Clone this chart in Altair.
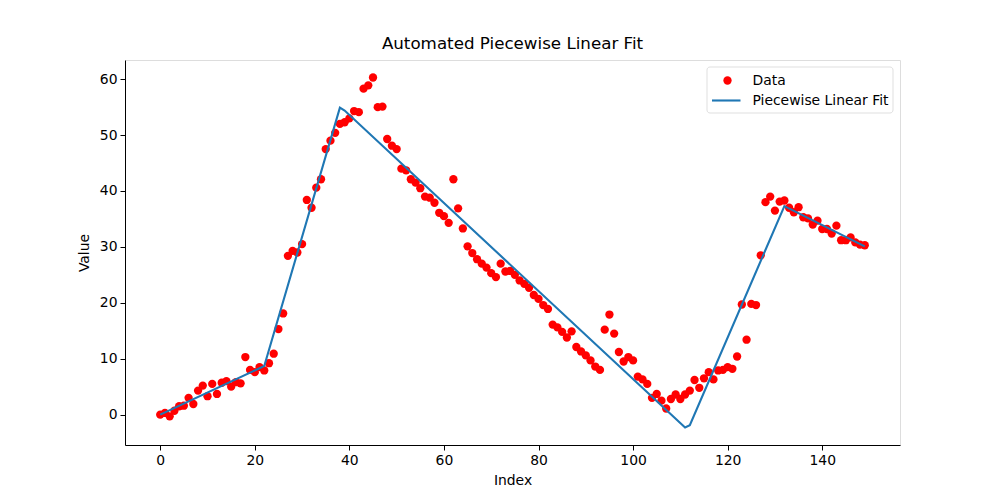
import altair as alt
import pandas as pd

values = [
    0.0, 0.3, -0.3, 0.7, 1.5, 1.6, 3.0, 1.9, 4.3, 5.2,
    3.3, 5.5, 3.7, 5.7, 6.0, 5.0, 5.8, 5.6, 10.3, 8.0,
    7.6, 8.5, 7.9, 9.2, 10.9, 15.3, 18.1, 28.4, 29.3, 29.0,
    30.5, 38.4, 37.0, 40.6, 42.1, 47.5, 49.0, 50.4, 52.0, 52.3,
    53.0, 54.3, 54.1, 58.3, 58.9, 60.3, 55.0, 55.1, 49.3, 48.1,
    47.5, 44.0, 43.7, 42.1, 41.5, 40.5, 39.0, 38.8, 37.9, 36.1,
    35.5, 34.3, 42.1, 36.9, 33.3, 30.1, 28.9, 27.8, 27.0, 26.3,
    25.3, 24.6, 27.0, 25.6, 25.7, 25.0, 24.0, 23.4, 22.7, 21.4,
    20.7, 19.6, 18.9, 16.1, 15.6, 14.8, 13.8, 14.9, 12.1, 11.3,
    10.6, 9.7, 8.6, 8.0, 15.2, 17.9, 14.5, 11.2, 9.5, 10.3,
    9.7, 6.8, 6.3, 5.5, 3.0, 3.7, 2.5, 1.1, 2.8, 3.6,
    2.8, 3.6, 4.3, 6.2, 4.8, 6.5, 7.6, 6.3, 7.9, 8.0,
    8.5, 8.2, 10.4, 19.7, 13.4, 19.8, 19.6, 28.5, 38.0, 39.0,
    36.5, 38.1, 38.3, 37.0, 36.2, 37.1, 35.3, 35.1, 34.0, 34.7,
    33.2, 33.2, 32.4, 33.8, 31.2, 31.2, 31.7, 30.8, 30.4, 30.3,
]
index = list(range(len(values)))

fit_x = [0, 22, 38, 39, 111, 112, 132, 149]
fit_y = [0.0, 8.7, 54.9, 54.4, -2.3, -1.9, 37.3, 30.1]

x_ticks = [0, 20, 40, 60, 80, 100, 120, 140]
y_ticks = [0, 10, 20, 30, 40, 50, 60]

data = pd.DataFrame({"Index": index, "Value": values})
fit = pd.DataFrame({"Index": fit_x, "Value": fit_y})

FONT = "DejaVu Sans"
xscale = alt.Scale(domain=[-7.45, 156.45], nice=False, zero=False)
yscale = alt.Scale(domain=[-5.43, 63.43], nice=False, zero=False)

xaxis = alt.Axis(values=x_ticks, title="Index", grid=False, labelFlush=False,
                 tickColor="black", domainColor="black", labelColor="black",
                 tickSize=5, labelPadding=3, titlePadding=7, labelFontSize=13.9,
                 titleFontSize=13.9, titleFontWeight="normal", titleColor="black",
                 labelFont=FONT, titleFont=FONT)
yaxis = alt.Axis(values=y_ticks, title="Value", grid=False, labelFlush=False,
                 tickColor="black", domainColor="black", labelColor="black",
                 tickSize=5, labelPadding=3, titlePadding=8, labelFontSize=13.9,
                 titleFontSize=13.9, titleFontWeight="normal", titleColor="black",
                 labelFont=FONT, titleFont=FONT)

points = alt.Chart(data).mark_point(filled=True, shape="circle", size=69,
                                    color="#ff0000", opacity=1).encode(
    x=alt.X("Index:Q", scale=xscale, axis=xaxis),
    y=alt.Y("Value:Q", scale=yscale, axis=yaxis),
)

line = alt.Chart(fit).mark_line(color="#1f77b4", strokeWidth=2.1).encode(
    x=alt.X("Index:Q", scale=xscale),
    y=alt.Y("Value:Q", scale=yscale),
)

legend_df = pd.DataFrame({"label": ["Data", "Piecewise Linear Fit"], "ypos": [20.5, 40.5]})

box = alt.Chart(pd.DataFrame({"a": [0]})).mark_rect(
    fill="white", stroke="#d9d9d9", strokeWidth=1, cornerRadius=3, opacity=0.8
).encode(x=alt.value(582), x2=alt.value(768), y=alt.value(7), y2=alt.value(53))

leg_point = alt.Chart(pd.DataFrame({"a": [0]})).mark_point(
    filled=True, shape="circle", size=69, color="#ff0000", opacity=1
).encode(x=alt.value(602.5), y=alt.value(20.5))

leg_line = alt.Chart(pd.DataFrame({"a": [0]})).mark_rule(
    color="#1f77b4", strokeWidth=2.1
).encode(x=alt.value(587), x2=alt.value(615.5), y=alt.value(40.5))

leg_text = alt.Chart(legend_df).mark_text(
    align="left", baseline="middle", font=FONT, fontSize=13.9, color="black"
).encode(x=alt.value(627.5), y=alt.Y("ypos:Q", scale=None), text="label:N")

chart = alt.layer(points, line, box, leg_point, leg_line, leg_text).properties(
    width=775, height=385,
    title=alt.TitleParams("Automated Piecewise Linear Fit", font=FONT, fontSize=16.7,
                          fontWeight="normal", color="black", anchor="middle", offset=7),
    padding={"left": 125, "top": 60, "right": 100, "bottom": 55},
    autosize="none",
).configure_view(stroke="black", strokeWidth=1).configure(background="white")

chart.save("out.html", embed_options={"renderer": "svg", "actions": False})
